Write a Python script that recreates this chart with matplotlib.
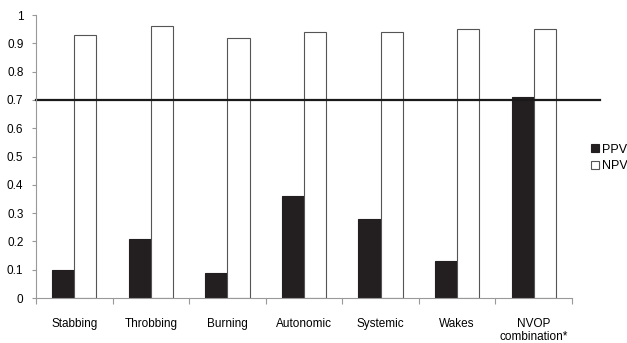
import numpy as np
import matplotlib
matplotlib.use("Agg")
import matplotlib.pyplot as plt

plt.rcParams['font.family'] = ['Liberation Sans', 'DejaVu Sans']

categories = ["Stabbing", "Throbbing", "Burning", "Autonomic", "Systemic", "Wakes", "NVOP\ncombination*"]
ppv = [0.10, 0.21, 0.09, 0.36, 0.28, 0.13, 0.71]
npv = [0.93, 0.96, 0.92, 0.94, 0.94, 0.95, 0.95]
threshold = 0.7

fig = plt.figure(figsize=(6.27, 3.43), dpi=100)
ax = fig.add_axes([0.0574, 0.131, 0.855, 0.825])

x = np.arange(len(categories))
w = 0.29
ax.bar(x - w / 2, ppv, w, color="#231f20", edgecolor="#231f20", linewidth=0.8, label="PPV")
ax.bar(x + w / 2, npv, w, color="white", edgecolor="#555555", linewidth=0.8, label="NPV")

# threshold line runs a bit past the plot area
ax.plot([-0.5, 6.86], [threshold, threshold], color="#1a1a1a", linewidth=1.6, clip_on=False)

ax.set_xlim(-0.5, len(categories) - 0.5)
ax.set_ylim(0, 1)
ax.set_yticks(np.arange(0, 1.01, 0.1))
ax.set_yticklabels(["0"] + ["%.1f" % v for v in np.arange(0.1, 0.95, 0.1)] + ["1"])
ax.set_xticks(x)
ax.set_xticklabels(categories, linespacing=1.15)
ax.set_xticks(np.arange(-0.5, len(categories)), minor=True)
ax.tick_params(axis="x", which="major", length=0, pad=14, labelsize=8.5)
ax.tick_params(axis="x", which="minor", length=4, color="#999999", width=0.8)
ax.tick_params(axis="y", length=3, color="#999999", width=0.8, labelsize=8.5, pad=6)

for s in ["top", "right"]:
    ax.spines[s].set_visible(False)
for s in ["left", "bottom"]:
    ax.spines[s].set_color("#999999")
    ax.spines[s].set_linewidth(0.8)

ax.legend(loc="center left", bbox_to_anchor=(1.015, 0.495), frameon=False, fontsize=9,
          handlelength=0.6, handleheight=0.6, handletextpad=0.25, labelspacing=0.35)

fig.savefig("out.png", dpi=100)
